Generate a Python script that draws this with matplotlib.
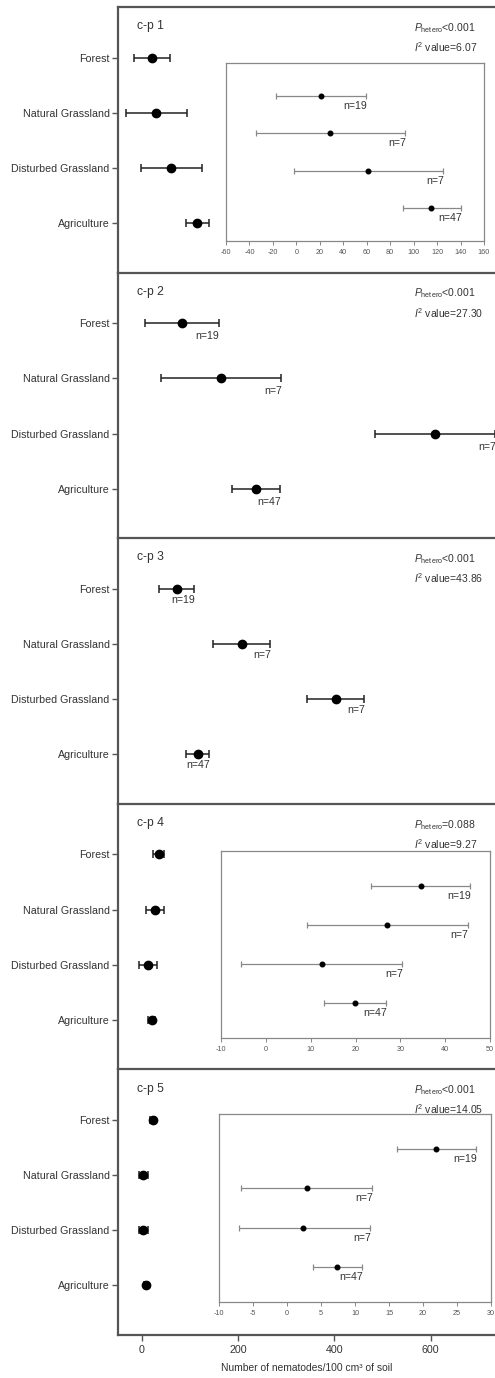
import numpy as np
import matplotlib
matplotlib.use("Agg")
import matplotlib.pyplot as plt

plt.rcParams['font.family'] = ['Liberation Sans', 'DejaVu Sans']
plt.rcParams['mathtext.fontset'] = 'custom'
plt.rcParams['mathtext.rm'] = 'Liberation Sans'
plt.rcParams['mathtext.it'] = 'Liberation Sans:italic'
plt.rcParams['axes.unicode_minus'] = False

categories = ["Forest", "Natural Grassland", "Disturbed Grassland", "Agriculture"]
n_values = [19, 7, 7, 47]
panel_names = ["c-p 1", "c-p 2", "c-p 3", "c-p 4", "c-p 5"]
p_hetero = ["<0.001", "<0.001", "<0.001", "=0.088", "<0.001"]
i2_values = ["6.07", "27.30", "43.86", "9.27", "14.05"]

# mean and interval ends, per c-p group
cp1_mean = [21, 29, 61, 115]
cp1_low = [-17, -34, -2, 91]
cp1_high = [59, 93, 125, 140]

cp2_mean = [83, 164, 610, 237]
cp2_low = [6, 39, 485, 188]
cp2_high = [159, 290, 735, 286]

cp3_mean = [72, 207, 403, 116]
cp3_low = [36, 148, 343, 92]
cp3_high = [109, 267, 462, 140]

cp4_mean = [34.5, 27.0, 12.5, 19.8]
cp4_low = [23.5, 9.1, -5.5, 13.0]
cp4_high = [45.5, 45.0, 30.4, 26.9]

cp5_mean = [21.9, 2.9, 2.4, 7.4]
cp5_low = [16.2, -6.8, -7.1, 3.8]
cp5_high = [27.8, 12.5, 12.2, 11.0]

main_ticks = [0, 200, 400, 600]
cp1_inset_ticks = [-60, -40, -20, 0, 20, 40, 60, 80, 100, 120, 140, 160]
cp4_inset_ticks = [-10, 0, 10, 20, 30, 40, 50]
cp5_inset_ticks = [-10, -5, 0, 5, 10, 15, 20, 25, 30]

means = [cp1_mean, cp2_mean, cp3_mean, cp4_mean, cp5_mean]
lows = [cp1_low, cp2_low, cp3_low, cp4_low, cp5_low]
highs = [cp1_high, cp2_high, cp3_high, cp4_high, cp5_high]

W, H = 495, 1378
fig = plt.figure(figsize=(W / 100, H / 100), dpi=100)

ypos = np.arange(len(categories))
top0 = 7
ph = (1335 - 7) / 5
spine_col = '#555555'
text_col = '#333333'

# which panels get an inset: panel index -> (left, top, right, bottom) in px, ticks
insets = {
    0: ((226, 63, 484, 241), cp1_inset_ticks),
    3: ((221, 851, 490, 1038), cp4_inset_ticks),
    4: ((219, 1114, 491, 1302), cp5_inset_ticks),
}

for i in range(5):
    top = top0 + i * ph
    ax = fig.add_axes([118 / W, 1 - (top + ph) / H, 377 / W, ph / H])
    m = np.array(means[i])
    lo = np.array(lows[i])
    hi = np.array(highs[i])
    ax.errorbar(m, ypos, xerr=[m - lo, hi - m], fmt='o', color='black',
                ecolor='#222222', elinewidth=1.1, capsize=3, capthick=1.1,
                markersize=6)
    ax.set_xlim(-50, 734)
    ax.set_ylim(3.9, -0.92)
    ax.set_yticks(ypos)
    ax.set_yticklabels(categories, fontsize=7.7, color=text_col)
    ax.tick_params(axis='y', length=4, width=1, color=spine_col, pad=2)
    for s in ['left', 'top', 'bottom']:
        ax.spines[s].set_color(spine_col)
        ax.spines[s].set_linewidth(1.6)
    ax.spines['right'].set_visible(False)
    if i < 4:
        ax.spines['bottom'].set_visible(False)
        ax.set_xticks([])
    else:
        ax.set_xticks(main_ticks)
        ax.tick_params(axis='x', length=4, width=1, color=spine_col,
                       labelsize=7.7, labelcolor=text_col, pad=3)
        ax.set_xlabel("Number of nematodes/100 cm³ of soil", fontsize=7.4,
                      color=text_col, labelpad=6)

    ax.text(0.05, 0.928, panel_names[i], transform=ax.transAxes, fontsize=8.7,
            color=text_col, va='center', ha='left')
    ax.text(0.785, 0.921, r"$\mathit{P}_{\mathrm{hetero}}$" + p_hetero[i],
            transform=ax.transAxes, fontsize=7.5, color=text_col,
            va='center', ha='left')
    ax.text(0.785, 0.849, r"$\mathit{I}^{2}$ value=" + i2_values[i],
            transform=ax.transAxes, fontsize=7.5, color=text_col,
            va='center', ha='left')

    if i in insets:
        (l, t, r, b), ticks = insets[i]
        ins = fig.add_axes([l / W, 1 - b / H, (r - l) / W, (b - t) / H])
        ins.errorbar(m, ypos, xerr=[m - lo, hi - m], fmt='o', color='black',
                     ecolor='#888888', elinewidth=0.9, capsize=2.2,
                     capthick=0.9, markersize=3.3)
        ins.set_xlim(ticks[0], ticks[-1])
        ins.set_ylim(3.9, -0.9)
        ins.set_yticks([])
        ins.set_xticks(ticks)
        ins.tick_params(axis='x', length=3, width=0.7, color='#888888',
                        labelsize=5.2, labelcolor='#555555', pad=3)
        for s in ins.spines.values():
            s.set_color('#888888')
            s.set_linewidth(0.9)
        for k in range(len(categories)):
            ins.annotate(f"n={n_values[k]}", xy=(hi[k], ypos[k]), xytext=(1, -10),
                         textcoords='offset pixels', ha='right', va='center',
                         fontsize=7.6, color=text_col, annotation_clip=False)
    elif i in (1, 2):
        off = -13 if i == 1 else -11
        for k in range(len(categories)):
            ax.annotate(f"n={n_values[k]}", xy=(hi[k], ypos[k]), xytext=(1, off),
                        textcoords='offset pixels', ha='right', va='center',
                        fontsize=7.6, color=text_col, annotation_clip=False)

fig.savefig("out.png", dpi=100)
